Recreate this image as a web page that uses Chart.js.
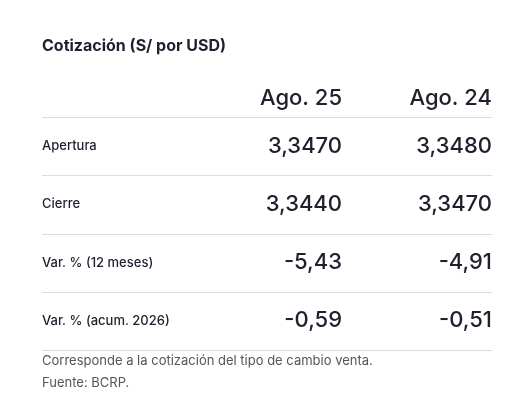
<!DOCTYPE html>
<html lang="es">
<head>
<meta charset="UTF-8">
<title>Cotización</title>
<script src="https://cdn.jsdelivr.net/npm/chart.js"></script>
<style>
  body { margin: 0; background: #fff; }
  canvas { display: block; }
</style>
</head>
<body>
<canvas id="tabla" width="527" height="407"></canvas>
<script>
const title = 'Cotización (S/ por USD)';
const columns = ['Ago. 25', 'Ago. 24'];
const rows = ['Apertura', 'Cierre', 'Var. % (12 meses)', 'Var. % (acum. 2026)'];
const ago25 = ['3,3470', '3,3440', '-5,43', '-0,59'];
const ago24 = ['3,3480', '3,3470', '-4,91', '-0,51'];
const notes = ['Corresponde a la cotización del tipo de cambio venta.', 'Fuente: BCRP.'];

const FONT = 'Inter, "Noto Sans", sans-serif';

const tablePlugin = {
  id: 'tablePlugin',
  afterDraw(chart) {
    const ctx = chart.ctx;
    const y = chart.scales.y;
    const area = chart.chartArea;
    const colRight = [area.right - 150, area.right];
    const values = [ago25, ago24];
    ctx.save();

    ctx.fillStyle = '#1f1f2e';
    ctx.font = 'bold 16px ' + FONT;
    ctx.textAlign = 'left';
    ctx.textBaseline = 'middle';
    ctx.fillText(title, area.left, 46);

    ctx.font = '500 22px ' + FONT;
    ctx.textAlign = 'right';
    columns.forEach((c, i) => ctx.fillText(c, colRight[i], area.top - 19));

    const band = (area.bottom - area.top) / rows.length;
    ctx.strokeStyle = '#dcdcdc';
    ctx.lineWidth = 1;
    for (let i = 0; i <= rows.length; i++) {
      const ly = Math.round(area.top + band * i) + 0.5;
      ctx.beginPath();
      ctx.moveTo(area.left, ly);
      ctx.lineTo(area.right, ly);
      ctx.stroke();
    }

    rows.forEach((r, i) => {
      const cy = y.getPixelForValue(i);
      ctx.font = '500 13px ' + FONT;
      ctx.textAlign = 'left';
      ctx.fillStyle = '#1f1f2e';
      ctx.fillText(r, area.left, cy);
      ctx.font = '500 22px ' + FONT;
      ctx.textAlign = 'right';
      values.forEach((v, j) => ctx.fillText(v[i], colRight[j], cy));
    });

    ctx.font = '13px ' + FONT;
    ctx.textAlign = 'left';
    ctx.fillStyle = '#555';
    notes.forEach((n, i) => ctx.fillText(n, area.left, 361 + i * 22));
    ctx.restore();
  }
};

new Chart(document.getElementById('tabla'), {
  type: 'bar',
  data: { labels: rows, datasets: [{ data: [], backgroundColor: 'transparent' }] },
  options: {
    responsive: false,
    animation: false,
    devicePixelRatio: 1,
    layout: { padding: { left: 42, right: 35, top: 117, bottom: 57 } },
    plugins: { legend: { display: false }, tooltip: { enabled: false } },
    scales: {
      x: { display: false, min: 0, max: 1 },
      y: { type: 'category', labels: rows, display: false, offset: true }
    }
  },
  plugins: [tablePlugin]
});
</script>
</body>
</html>
